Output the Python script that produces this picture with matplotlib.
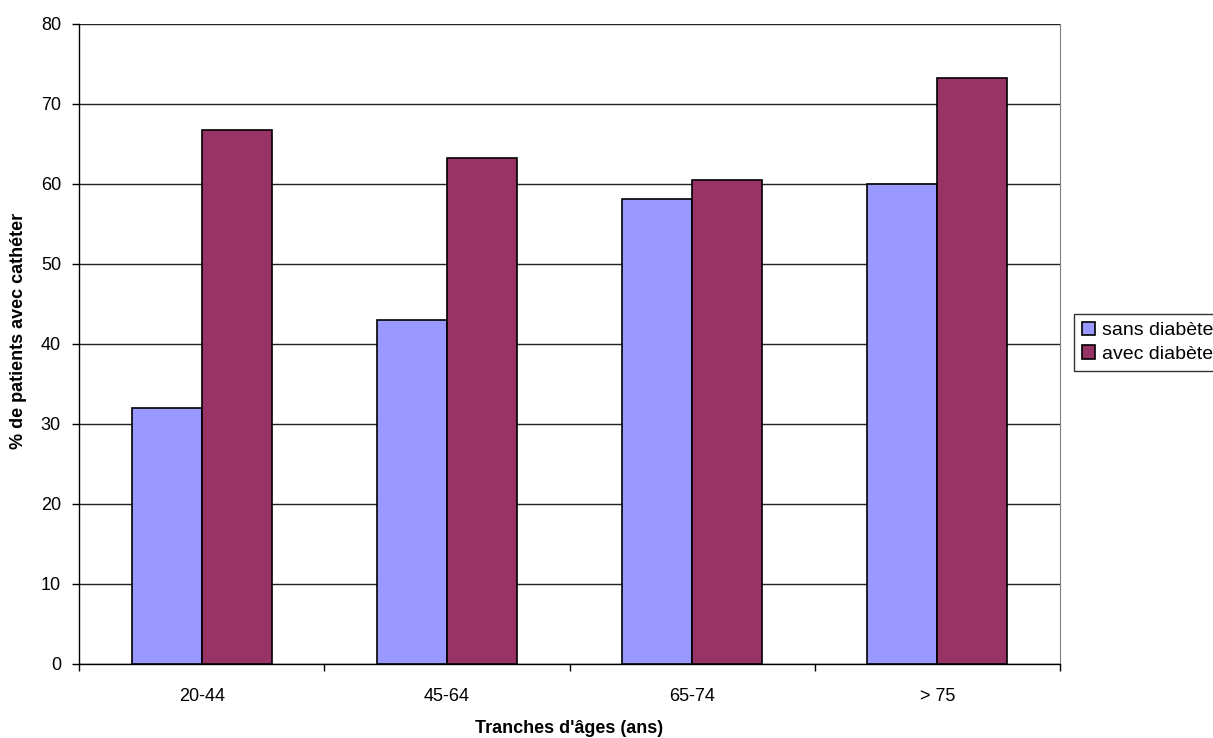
import numpy as np
import matplotlib.pyplot as plt
from matplotlib.ticker import FixedLocator, NullFormatter

plt.rcParams['font.family'] = ['Liberation Sans', 'DejaVu Sans']

# data
categories = ['20-44', '45-64', '65-74', '> 75']
sans_diabete = [32.0, 43.0, 58.1, 60.0]
avec_diabete = [66.7, 63.2, 60.5, 73.2]
series_names = ['sans diabète', 'avec diabète']
colors = ['#9999FF', '#993366']

W, H = 1213, 738
fig = plt.figure(figsize=(W / 100, H / 100), dpi=100)
ax = fig.add_axes([79 / W, (H - 664) / H, (1060 - 79) / W, (664 - 24) / H])

x = np.arange(len(categories))
width = 1 / 3.5  # excel gap width 150%
ax.bar(x - width / 2, sans_diabete, width, color=colors[0], edgecolor='black',
       linewidth=1.2, label=series_names[0], zorder=3)
ax.bar(x + width / 2, avec_diabete, width, color=colors[1], edgecolor='black',
       linewidth=1.2, label=series_names[1], zorder=3)

ax.set_xlim(-0.5, len(categories) - 0.5)
ax.set_ylim(0, 80)
ax.set_yticks(np.arange(0, 81, 10))
ax.yaxis.grid(True, color='#222222', linewidth=1.0, zorder=0)

# category labels centred, ticks on the category boundaries
ax.xaxis.set_major_locator(FixedLocator(np.arange(-0.5, len(categories), 1)))
ax.xaxis.set_major_formatter(NullFormatter())
ax.xaxis.set_minor_locator(FixedLocator(x))
ax.set_xticklabels(categories, minor=True)
ax.tick_params(axis='x', which='minor', length=0, pad=17, labelsize=13)
ax.tick_params(axis='x', which='major', direction='out', length=5, width=1)
ax.tick_params(axis='y', direction='out', length=5, width=1, pad=8, labelsize=13)

ax.spines['top'].set_visible(False)
ax.spines['right'].set_color('#808080')
ax.spines['left'].set_linewidth(1.0)
ax.spines['bottom'].set_linewidth(1.0)

ax.set_xlabel("Tranches d'âges (ans)", fontsize=13, fontweight='bold', labelpad=11)
ax.set_ylabel('% de patients avec cathéter', fontsize=13, fontweight='bold')
ax.yaxis.set_label_coords(-0.053, 0.52)

leg = fig.legend(loc='upper left', bbox_to_anchor=(1074 / W, (H - 314) / H),
                 fontsize=14, frameon=True, fancybox=False, edgecolor='black',
                 handlelength=0.7, handleheight=0.7, handletextpad=0.35,
                 borderpad=0.4, labelspacing=0.3, borderaxespad=0)
leg.get_frame().set_linewidth(1.0)

fig.savefig('out.png', dpi=100)
